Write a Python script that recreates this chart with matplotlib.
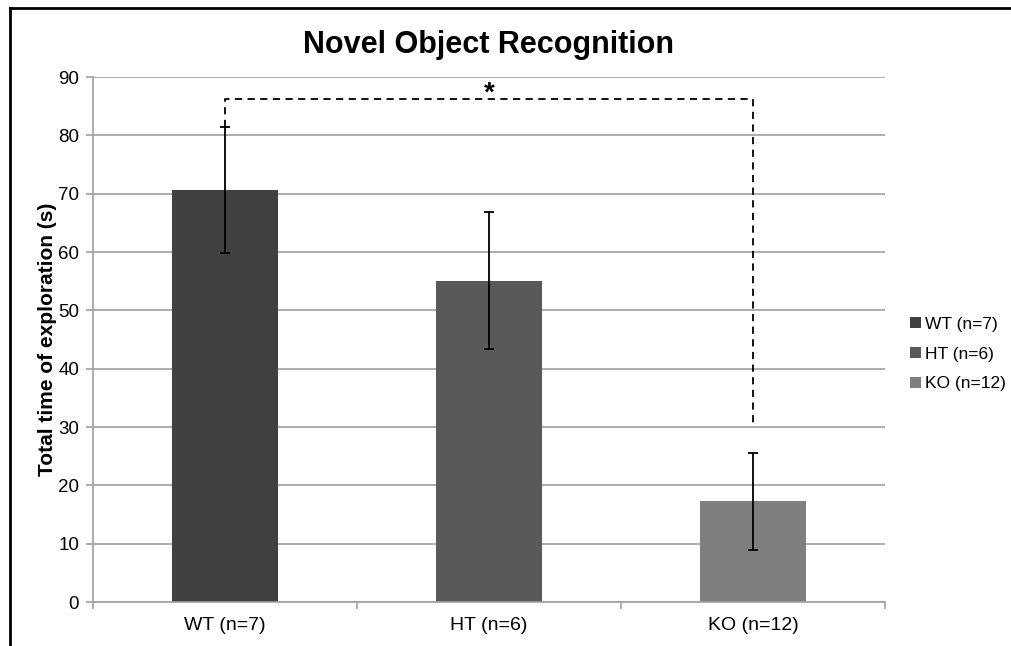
import matplotlib
matplotlib.use("Agg")
import matplotlib.pyplot as plt
import numpy as np
from matplotlib.patches import Patch

plt.rcParams["font.family"] = ["Liberation Sans", "DejaVu Sans"]

groups = ["WT (n=7)", "HT (n=6)", "KO (n=12)"]
means = [70.7, 55.1, 17.3]
errors = [10.8, 11.7, 8.3]
colors = ["#404040", "#595959", "#7f7f7f"]

fig = plt.figure(figsize=(10.12, 6.46), dpi=100)
ax = fig.add_axes([0.0919, 0.0681, 0.7826, 0.8127])

x = np.arange(len(groups))
ax.bar(x, means, width=0.4, color=colors, zorder=2)
ax.errorbar(x, means, yerr=errors, fmt="none", ecolor="black",
            elinewidth=1.3, capsize=3.5, capthick=1.3, zorder=3)

ax.set_xlim(-0.5, 2.5)
ax.set_ylim(0, 90)
ax.set_yticks(range(0, 91, 10))
ax.yaxis.grid(True, color="#a0a0a0", linewidth=1.2, zorder=0)
ax.set_axisbelow(True)

ax.set_xticks(x)
ax.set_xticklabels(groups, fontsize=14)
ax.set_xticks([-0.5, 0.5, 1.5, 2.5], minor=True)
ax.tick_params(axis="x", which="major", length=0, pad=11)
ax.tick_params(axis="x", which="minor", length=5, color="#a0a0a0", width=1.2)
ax.tick_params(axis="y", length=5, color="#a0a0a0", width=1.2, labelsize=13.5, pad=5)

for s in ["top", "right"]:
    ax.spines[s].set_visible(False)
for s in ["left", "bottom"]:
    ax.spines[s].set_color("#a0a0a0")
    ax.spines[s].set_linewidth(1.2)

ax.set_ylabel("Total time of exploration (s)", fontsize=15, fontweight="bold", labelpad=1)
ax.set_title("Novel Object Recognition", fontsize=22, fontweight="bold", pad=17.5)

# significance bracket between WT and KO
bracket_y = 86.2
ax.plot([0, 0, 2, 2], [means[0] + errors[0], bracket_y, bracket_y, 30],
        color="black", linestyle=(0, (4, 3)), linewidth=1.3, zorder=4)
ax.text(1, bracket_y - 1.3, "*", ha="center", va="bottom", fontsize=20, fontweight="bold")

handles = [Patch(facecolor=c, label=g) for c, g in zip(colors, groups)]
fig.legend(handles=handles, loc="center left", bbox_to_anchor=(0.891, 0.452),
           frameon=False, fontsize=12.5, handlelength=0.6, handleheight=0.6,
           handletextpad=0.25, labelspacing=0.85, borderpad=0)

# frame around the figure
fig.add_artist(plt.Line2D([0.0099, 1.0], [0.9876, 0.9876], color="black", linewidth=2,
                          transform=fig.transFigure))
fig.add_artist(plt.Line2D([0.0099, 0.0099], [0.0, 0.9876], color="black", linewidth=2,
                          transform=fig.transFigure))

plt.savefig("out.png", dpi=100)
